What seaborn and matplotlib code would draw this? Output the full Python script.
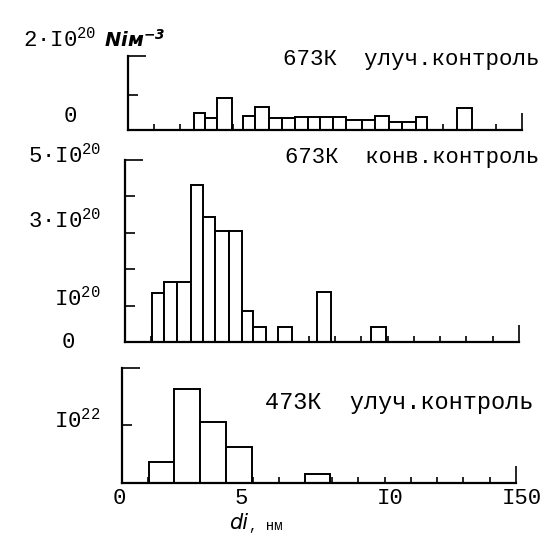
import matplotlib
matplotlib.use('Agg')
import matplotlib.pyplot as plt
import numpy as np
import seaborn as sb

# 673K ulučš. kontrol' -- bin edges (nm) and densities (x1e20 m^-3, tick=1)
top_edges = [2.53, 2.94, 3.41, 3.95, 4.40, 4.84, 5.37, 5.86, 6.36, 6.87, 7.32,
             7.82, 8.30, 8.90, 9.40, 9.95, 10.42, 10.96, 11.39, 12.51, 13.08]
top_vals = [0.48, 0.33, 0.92, 0, 0.41, 0.65, 0.33, 0.33, 0.38, 0.38,
            0.38, 0.38, 0.29, 0.29, 0.41, 0.22, 0.22, 0.38, 0, 0.64]

# 673K konv. kontrol'
mid_edges = [1.03, 1.48, 1.98, 2.50, 2.97, 3.43, 3.96, 4.45, 4.87, 5.37,
             5.82, 6.36, 7.31, 7.84, 9.36, 9.94]
mid_vals = [1.35, 1.65, 1.65, 4.31, 3.43, 3.05, 3.05, 0.85, 0.41, 0,
            0.41, 0, 1.37, 0, 0.41]

# 473K ulučš. kontrol' (x1e22)
bot_edges = [1.04, 1.99, 2.98, 3.97, 4.94, 6.97, 7.91]
bot_vals = [0.36, 1.64, 1.05, 0.63, 0, 0.16]

titles = ['673К  улуч.контроль', '673К  конв.контроль', '473К  улуч.контроль']
xtick_labels = ['0', '5', 'I0', 'I50']

sb.set_theme(style='white')
plt.rcParams['font.family'] = ['Liberation Mono', 'DejaVu Sans']
plt.rcParams['mathtext.default'] = 'regular'

W = 549.0
fig = plt.figure(figsize=(5.49, 5.49), dpi=100)


def ptext(x, y, s, **kw):
    # place text by pixel position of the scan
    kw.setdefault('color', 'black')
    fig.text(x / W, 1 - y / W, s, **kw)


panels = [
    (top_edges, top_vals, 2.11, [1], (127.7, 522, 56, 130)),
    (mid_edges, mid_vals, 5.0, [1, 2, 3, 4], (125, 519, 160, 342)),
    (bot_edges, bot_vals, 2.0, [1], (121.7, 516, 368, 482.7)),
]

for edges, vals, ytop, yminor, (x0, x1, yt, yb) in panels:
    ax = fig.add_axes([x0 / W, 1 - yb / W, (x1 - x0) / W, (yb - yt) / W])
    centers = [(a + b) / 2 for a, b in zip(edges[:-1], edges[1:])]
    sb.histplot(x=centers, weights=vals, bins=edges, ax=ax, color='white',
                edgecolor='black', linewidth=1.4, alpha=1)
    ax.set_xlim(0, 15)
    ax.set_ylim(0, ytop)
    ax.set_xlabel('')
    ax.set_ylabel('')
    ax.set_xticks([15])
    ax.set_xticks(range(1, 15), minor=True)
    ax.set_yticks([ytop])
    ax.set_yticks(yminor, minor=True)
    ax.tick_params(which='both', direction='in', bottom=True, left=True,
                   labelbottom=False, labelleft=False, width=1.2, color='black')
    ax.tick_params(axis='x', which='major', length=12)
    ax.tick_params(axis='x', which='minor', length=4.5)
    ax.tick_params(axis='y', which='major', length=13)
    ax.tick_params(axis='y', which='minor', length=7.5)
    for s in ['top', 'right']:
        ax.spines[s].set_visible(False)
    for s in ['left', 'bottom']:
        ax.spines[s].set_color('black')
        ax.spines[s].set_linewidth(1.6)
    ax.set_axisbelow(True)
    ax.patch.set_alpha(0)

fs = 16
# panel captions
ptext(283, 59, titles[0], fontsize=16.2, va='center')
ptext(285, 158, titles[1], fontsize=16, va='center')
ptext(265, 402, titles[2], fontsize=17, va='center')

# y labels
ptext(23, 47, '2·I0$^{20}$', fontsize=fs, va='baseline')
ptext(104, 47, 'Niм$^{-3}$', fontsize=14, va='baseline', family='DejaVu Sans',
      style='italic', weight='bold')
ptext(70, 117, '0', fontsize=fs, ha='center', va='center')
ptext(101, 156, '5·I0$^{20}$', fontsize=fs, ha='right', va='center')
ptext(101, 221, '3·I0$^{20}$', fontsize=fs, ha='right', va='center')
ptext(101, 299, 'I0$^{20}$', fontsize=fs, ha='right', va='center')
ptext(68, 342, '0', fontsize=fs, ha='center', va='center')
ptext(101, 421, 'I0$^{22}$', fontsize=fs, ha='right', va='center')

# x tick labels and axis label
for xp, lab in zip([119, 241, 390, 522], xtick_labels):
    ptext(xp, 499, lab, fontsize=fs, ha='center', va='center')
ptext(229, 523, 'di', fontsize=15, va='center', family='DejaVu Sans', style='italic')
ptext(249, 526, ', нм', fontsize=10, va='center')

fig.savefig('out.png', dpi=100)
